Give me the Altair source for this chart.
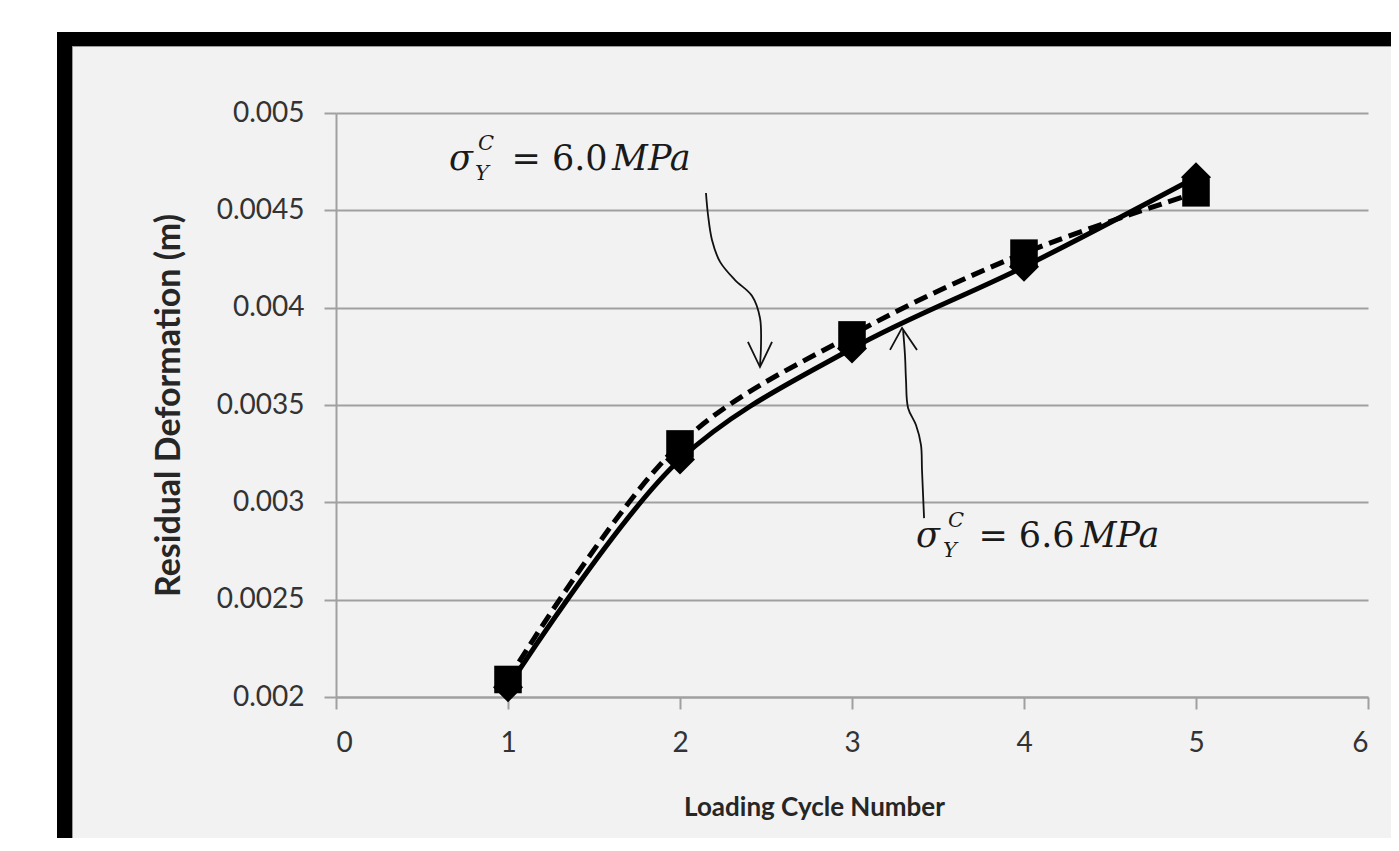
import altair as alt
import pandas as pd

# ---------------- data ----------------
cycles = [1, 2, 3, 4, 5]
def_60 = [0.00209, 0.00330, 0.00386, 0.00428, 0.00459]   # sigma = 6.0 MPa (dashed, squares)
def_66 = [0.00205, 0.00322, 0.00379, 0.00421, 0.00467]   # sigma = 6.6 MPa (solid, diamonds)

x_ticks = [0, 1, 2, 3, 4, 5, 6]
y_ticks = [0.002, 0.0025, 0.003, 0.0035, 0.004, 0.0045, 0.005]

# annotation arrows (data units)
arrow1_x = [2.151, 2.163, 2.186, 2.233, 2.320, 2.419, 2.465, 2.471, 2.465]
arrow1_y = [0.004589, 0.004476, 0.004348, 0.004235, 0.004142, 0.004060, 0.003947, 0.003808, 0.003705]
head1_x = [2.395, 2.465, 2.535]
head1_y = [0.003824, 0.003695, 0.003824]

arrow2_x = [3.419, 3.407, 3.401, 3.372, 3.326, 3.314, 3.308, 3.297]
arrow2_y = [0.002919, 0.003166, 0.003295, 0.003397, 0.003485, 0.003628, 0.003757, 0.003885]
head2_x = [3.221, 3.291, 3.378]
head2_y = [0.003783, 0.003896, 0.003783]

# annotation text pieces
ital_text = ["σ", "C", "Y", "MPa", "σ", "C", "Y", "MPa"]
ital_x = [0.657, 0.826, 0.808, 1.605, 3.372, 3.558, 3.529, 4.330]
ital_y = [0.004707, 0.004810, 0.004656, 0.004707, 0.002770, 0.002873, 0.002719, 0.002770]
ital_fs = [35, 21, 21, 35, 35, 21, 21, 35]

reg_text = ["= 6.0", "= 6.6"]
reg_x = [1.020, 3.735]
reg_y = [0.004707, 0.002770]
reg_fs = [35, 35]

# ---------------- tables ----------------
s60 = pd.DataFrame({"cycle": cycles, "def": def_60})
s66 = pd.DataFrame({"cycle": cycles, "def": def_66})

arrows = pd.DataFrame({
    "x": arrow1_x + head1_x + arrow2_x + head2_x,
    "y": arrow1_y + head1_y + arrow2_y + head2_y,
    "g": ["a1"] * len(arrow1_x) + ["h1"] * len(head1_x) + ["a2"] * len(arrow2_x) + ["h2"] * len(head2_x),
    "i": list(range(len(arrow1_x))) + list(range(len(head1_x))) + list(range(len(arrow2_x))) + list(range(len(head2_x))),
})
curves = arrows[arrows["g"].isin(["a1", "a2"])]
heads = arrows[arrows["g"].isin(["h1", "h2"])]

ital = pd.DataFrame({"t": ital_text, "x": ital_x, "y": ital_y, "fs": ital_fs})
reg = pd.DataFrame({"t": reg_text, "x": reg_x, "y": reg_y, "fs": reg_fs})

GRID = "#a0a0a0"
LABEL_FONT = "Lato"

xscale = alt.Scale(domain=[0, 6], nice=False)
yscale = alt.Scale(domain=[0.002, 0.005], nice=False, zero=False)

xaxis = alt.Axis(values=x_ticks, format="d", grid=False, domainColor=GRID, domainWidth=2,
                 tickColor=GRID, tickWidth=2, tickSize=12, labelFont=LABEL_FONT, labelFontSize=28,
                 labelColor="#333333", labelPadding=20, title="Loading Cycle Number",
                 titleFont=LABEL_FONT, titleFontSize=26, titleFontWeight="bold", titleColor="#262626",
                 titleX=478, titleY=118, titleAnchor="middle", titleAlign="center",
                 titleBaseline="alphabetic")
yaxis = alt.Axis(values=y_ticks, format=".4~f", grid=True, gridColor=GRID, gridWidth=2,
                 domainColor=GRID, domainWidth=2, tickColor=GRID, tickWidth=2, tickSize=12,
                 labelFont=LABEL_FONT, labelFontSize=28, labelColor="#333333", labelPadding=20,
                 title="Residual Deformation (m)", titleFont=LABEL_FONT, titleFontSize=34,
                 titleFontWeight="bold", titleColor="#262626", titleX=-157, titleY=292,
                 titleAngle=-90, titleAlign="center", titleBaseline="alphabetic")

X = alt.X("cycle:Q", scale=xscale, axis=xaxis)
Y = alt.Y("def:Q", scale=yscale, axis=yaxis)

line60 = alt.Chart(s60).mark_line(color="black", strokeWidth=5, strokeDash=[14, 7],
                                  interpolate="catmull-rom").encode(x=X, y=Y)
pts60 = alt.Chart(s60).mark_point(shape="square", filled=True, color="black", size=760,
                                  opacity=1).encode(x="cycle:Q", y="def:Q")
line66 = alt.Chart(s66).mark_line(color="black", strokeWidth=5,
                                  interpolate="catmull-rom").encode(x="cycle:Q", y="def:Q")
pts66 = alt.Chart(s66).mark_point(shape="diamond", filled=True, color="black", size=900,
                                  opacity=1).encode(x="cycle:Q", y="def:Q")

curve_layer = alt.Chart(curves).mark_line(color="#111111", strokeWidth=1.8,
                                          interpolate="catmull-rom").encode(
    x="x:Q", y="y:Q", detail="g:N", order="i:Q")
head_layer = alt.Chart(heads).mark_line(color="#111111", strokeWidth=1.8).encode(
    x="x:Q", y="y:Q", detail="g:N", order="i:Q")

ital_layer = alt.Chart(ital).mark_text(font="DejaVu Serif", fontStyle="italic", align="left",
                                       baseline="alphabetic", color="#1a1a1a").encode(
    x="x:Q", y="y:Q", text="t:N", size=alt.Size("fs:Q", scale=None))
reg_layer = alt.Chart(reg).mark_text(font="DejaVu Serif", align="left",
                                     baseline="alphabetic", color="#1a1a1a").encode(
    x="x:Q", y="y:Q", text="t:N", size=alt.Size("fs:Q", scale=None))

# decorative frame (pixel offsets relative to the plot origin)
dummy = pd.DataFrame({"k": [0]})
def band(x0, x1, y0, y1, color):
    return alt.Chart(dummy).mark_rect(color=color, opacity=1).encode(
        x=alt.value(x0), x2=alt.value(x1), y=alt.value(y0), y2=alt.value(y1))

frame = [
    band(-330, -279, -110, 900, "white"),
    band(-330, 1100, -110, -81, "white"),
    band(-279, -264, -81, 900, "black"),
    band(-279, 1100, -81, -67, "black"),
    band(-264, -263, -67, 900, "#9a9a9a"),
    band(-264, 1100, -67, -66, "#9a9a9a"),
]

chart = alt.layer(
    line60, line66, pts60, pts66, curve_layer, head_layer, ital_layer, reg_layer, *frame
).properties(
    width=1032, height=584,
    autosize=alt.AutoSizeParams(type="none"),
    padding={"left": 328, "top": 105, "right": 23, "bottom": 141},
    background="#f2f2f2",
).configure_view(stroke=None)

chart.save("out.html", embed_options={"renderer": "svg", "actions": False})
